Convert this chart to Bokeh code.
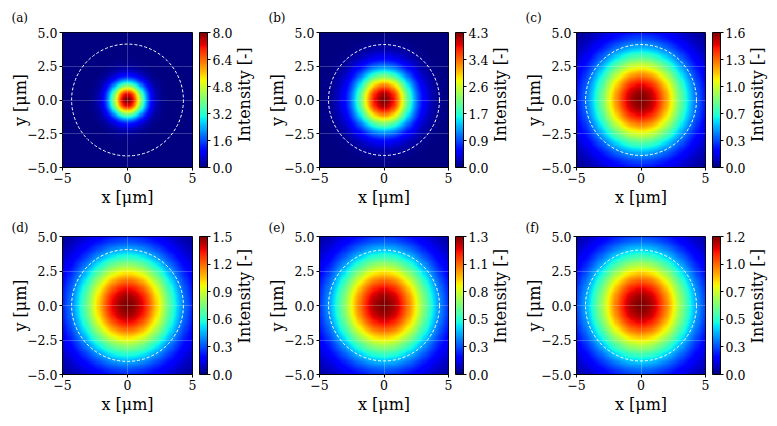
import numpy as np
from bokeh.plotting import figure
from bokeh.models import LinearColorMapper, ColorBar, FixedTicker, Range1d, Title
from bokeh.core.properties import value
from bokeh.layouts import column, row
from bokeh.embed import file_html
from bokeh.resources import INLINE

# ---- data -----------------------------------------------------------------
panel_tags = ["(a)", "(b)", "(c)", "(d)", "(e)", "(f)"]
peak_intensity = [8.0, 4.3, 1.63, 1.5, 1.33, 1.22]      # peak of each spot [-]
beam_radius_um = [1.3, 2.15, 3.6, 3.7, 3.8, 3.9]        # 1/e intensity radius [um]
core_radius_um = 4.3                                    # dashed boundary radius [um]
colorbar_labels = [
    ["0.0", "1.6", "3.2", "4.8", "6.4", "8.0"],
    ["0.0", "0.9", "1.7", "2.6", "3.4", "4.3"],
    ["0.0", "0.3", "0.7", "1.0", "1.3", "1.6"],
    ["0.0", "0.3", "0.6", "0.9", "1.2", "1.5"],
    ["0.0", "0.3", "0.5", "0.8", "1.1", "1.3"],
    ["0.0", "0.3", "0.5", "0.7", "1.0", "1.2"],
]
colorbar_title = "Intensity [-]"
x_ticks = [-5, 0, 5]
x_tick_labels = ["\u22125", "0", "5"]
y_ticks = [-5, -2.5, 0, 2.5, 5]
y_tick_labels = ["\u22125.0", "\u22122.5", "0.0", "2.5", "5.0"]
extent_um = 5.0
n_grid = 121


# ---- jet colormap ---------------------------------------------------------
def jet_palette(n=256):
    v = np.linspace(0, 1, n)
    r = np.interp(v, [0, 0.35, 0.66, 0.89, 1], [0, 0, 1, 1, 0.5])
    g = np.interp(v, [0, 0.125, 0.375, 0.64, 0.91, 1], [0, 0, 1, 1, 0, 0])
    b = np.interp(v, [0, 0.11, 0.34, 0.65, 1], [0.5, 1, 1, 0, 0])
    return ["#%02x%02x%02x" % (int(round(255 * a)), int(round(255 * c)), int(round(255 * d)))
            for a, c, d in zip(r, g, b)]


JET = jet_palette()
FONT = "DejaVu Serif"
TICK_PX = "12.5px"
LABEL_PX = "16px"

# ---- layout geometry (pixels) ---------------------------------------------
col_width = [258, 259, 260]
col_left = [62, 61, 59]
frame_w = [133, 132, 132]
cbar_room = 40            # space right of the frame for the colour bar
row_height = [213, 213]
row_top = [29, 23]
frame_h = 138
title_x = 9.0             # colour-bar title position inside its strip
tag_standoff = [16, 3]

coords = np.linspace(-extent_um, extent_um, n_grid)
XX, YY = np.meshgrid(coords, coords)
RR2 = XX ** 2 + YY ** 2


def make_panel(i):
    r, c = divmod(i, 3)
    H = row_height[r]
    left, top = col_left[c], row_top[r]
    W = left + frame_w[c] + cbar_room
    bottom = H - top - frame_h

    p = figure(width=W, height=H, x_range=Range1d(-extent_um, extent_um),
               y_range=Range1d(-extent_um, extent_um),
               output_backend="svg", toolbar_location=None,
               min_border_left=left, min_border_right=cbar_room,
               min_border_top=top, min_border_bottom=bottom)
    p.outline_line_color = "black"
    p.border_fill_color = "white"

    peak = peak_intensity[i]
    field = peak * np.exp(-RR2 / beam_radius_um[i] ** 2)
    mapper = LinearColorMapper(palette=JET, low=0, high=peak)
    p.image(image=[field], x=-extent_um, y=-extent_um, dw=2 * extent_um,
            dh=2 * extent_um, color_mapper=mapper)
    p.circle(x=[0], y=[0], radius=core_radius_um, fill_color=None,
             line_color="white", line_width=1, line_dash="3 2")

    for g in (p.xgrid, p.ygrid):
        g.level = "overlay"
        g.grid_line_color = "white"
        g.grid_line_alpha = 0.22
    p.xgrid.ticker = FixedTicker(ticks=x_ticks)
    p.ygrid.ticker = FixedTicker(ticks=y_ticks)

    p.xaxis.ticker = FixedTicker(ticks=x_ticks)
    p.xaxis.major_label_overrides = dict(zip(x_ticks, x_tick_labels))
    p.yaxis.ticker = FixedTicker(ticks=y_ticks)
    p.yaxis.major_label_overrides = dict(zip(y_ticks, y_tick_labels))
    p.xaxis.axis_label = "x [\u03bcm]"
    p.yaxis.axis_label = "y [\u03bcm]"
    for ax in (p.xaxis, p.yaxis):
        ax.axis_label_text_font = FONT
        ax.axis_label_text_font_size = LABEL_PX
        ax.axis_label_text_font_style = "normal"
        ax.axis_label_text_color = "black"
        ax.major_label_text_font = FONT
        ax.major_label_text_font_size = TICK_PX
        ax.major_label_text_color = "black"
        ax.minor_tick_line_color = None
        ax.major_tick_in = 0
        ax.major_tick_out = 3
        ax.major_tick_line_color = "black"
        ax.axis_line_color = "black"
        ax.major_label_standoff = 2
    p.xaxis.axis_label_standoff = 2
    p.yaxis.axis_label_standoff = -6

    ticks = [float(t) for t in np.linspace(0, peak, len(colorbar_labels[i]))]
    cb = ColorBar(color_mapper=mapper, ticker=FixedTicker(ticks=ticks),
                  major_label_overrides=dict(zip(ticks, colorbar_labels[i])),
                  width=8, padding=0, margin=0, location=(7, 0),
                  major_tick_in=0, major_tick_out=3,
                  major_tick_line_color="black", bar_line_color="black",
                  major_label_text_font=FONT, major_label_text_font_size=TICK_PX,
                  major_label_text_color="black",
                  label_standoff=2, border_line_color=None,
                  background_fill_color=None, minor_tick_line_color=None)
    p.add_layout(cb, "right")

    p.add_layout(Title(text=panel_tags[i], text_font=FONT, text_font_size="12px",
                       text_font_style="normal", text_color="black",
                       align="left", offset=-51, standoff=tag_standoff[r]), "above")

    # narrow strip carrying the colour-bar title, read bottom to top
    sw = col_width[c] - W
    s = figure(width=sw, height=H, x_range=Range1d(0, sw), y_range=Range1d(0, H),
               x_axis_type=None, y_axis_type=None, output_backend="svg",
               toolbar_location=None, min_border=0)
    s.min_border_left = s.min_border_right = 0
    s.min_border_top = s.min_border_bottom = 0
    s.outline_line_color = None
    s.border_fill_color = "white"
    s.background_fill_color = "white"
    s.text(x=[title_x], y=[bottom + frame_h / 2], text=[colorbar_title],
           angle=np.pi / 2, text_align="center", text_baseline="middle",
           text_font=value(FONT), text_font_size=value(LABEL_PX),
           text_color="black")
    return [p, s]


figs = [make_panel(i) for i in range(6)]
top_row = row(*[f for pair in figs[:3] for f in pair])
bottom_row = row(*[f for pair in figs[3:] for f in pair])
layout = column(top_row, bottom_row)

open("out.html", "w").write(file_html(layout, INLINE))
